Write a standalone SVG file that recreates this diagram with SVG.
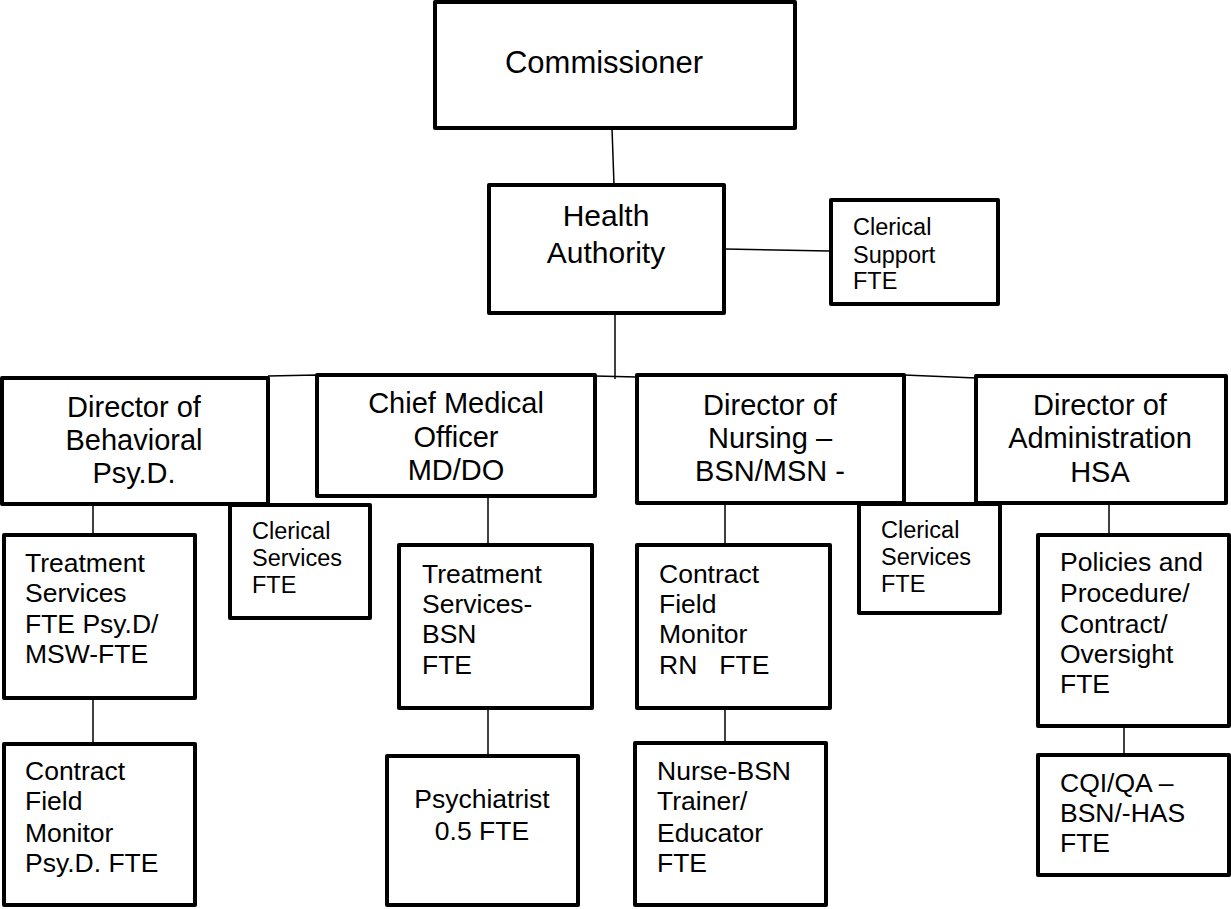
<svg xmlns="http://www.w3.org/2000/svg" width="1231" height="909" viewBox="0 0 1231 909">
<style>
.box{fill:#fff;stroke:#000;stroke-width:4;stroke-linejoin:round}
.ln{stroke:#000;stroke-width:1.5;fill:none}
text{font-family:"Liberation Sans",Arial,sans-serif;fill:#000}
.c{text-anchor:middle}
.big{font-size:31px}
.h{font-size:30px}
.d{font-size:29px}
.m{font-size:26.5px}
.s{font-size:23.5px}
</style>
<rect width="1231" height="909" fill="#fff"/>
<g id="connectors">
<line class="ln" x1="612" y1="128" x2="614" y2="185"/>
<line class="ln" x1="725" y1="249" x2="829" y2="251"/>
<line class="ln" x1="615" y1="313" x2="615" y2="379"/>
<polyline class="ln" points="268,376 317,375 595,376 637,377"/>
<line class="ln" x1="904" y1="375" x2="976" y2="378"/>
<line class="ln" x1="93" y1="504" x2="93" y2="535"/>
<line class="ln" x1="93" y1="698" x2="93" y2="744"/>
<line class="ln" x1="488" y1="496" x2="488" y2="545"/>
<line class="ln" x1="488" y1="708" x2="488" y2="756"/>
<line class="ln" x1="725" y1="503" x2="725" y2="545"/>
<line class="ln" x1="725" y1="708" x2="725" y2="743"/>
<line class="ln" x1="1109" y1="503" x2="1109" y2="535"/>
<line class="ln" x1="1124" y1="726" x2="1124" y2="755"/>
</g>
<g id="commissioner">
<rect class="box" x="435" y="2" width="360" height="126"/>
<text class="big c" x="604" y="73">Commissioner</text>
</g>
<g id="health-authority">
<rect class="box" x="489" y="185" width="235" height="128"/>
<text class="h c" x="606" y="226">Health</text>
<text class="h c" x="606" y="263">Authority</text>
</g>
<g id="clerical-support">
<rect class="box" x="831" y="200" width="167" height="104"/>
<text class="s" x="853" y="235">Clerical</text>
<text class="s" x="853" y="263">Support</text>
<text class="s" x="853" y="289">FTE</text>
</g>
<g id="director-behavioral">
<rect class="box" x="2" y="378" width="266" height="126"/>
<text class="d c" x="134" y="417">Director of</text>
<text class="d c" x="134" y="450">Behavioral</text>
<text class="d c" x="134" y="483">Psy.D.</text>
</g>
<g id="chief-medical-officer">
<rect class="box" x="317" y="375" width="278" height="121"/>
<text class="d c" x="456" y="413">Chief Medical</text>
<text class="d c" x="456" y="447">Officer</text>
<text class="d c" x="456" y="480">MD/DO</text>
</g>
<g id="director-nursing">
<rect class="box" x="637" y="375" width="267" height="128"/>
<text class="d c" x="770" y="415">Director of</text>
<text class="d c" x="770" y="448">Nursing –</text>
<text class="d c" x="770" y="481">BSN/MSN -</text>
</g>
<g id="director-administration">
<rect class="box" x="976" y="376" width="250" height="127"/>
<text class="d c" x="1100" y="415">Director of</text>
<text class="d c" x="1100" y="448">Administration</text>
<text class="d c" x="1100" y="482">HSA</text>
</g>
<g id="clerical-services-left">
<rect class="box" x="230" y="505" width="140" height="113"/>
<text class="s" x="252" y="539">Clerical</text>
<text class="s" x="252" y="566">Services</text>
<text class="s" x="252" y="593">FTE</text>
</g>
<g id="clerical-services-right">
<rect class="box" x="859" y="504" width="141" height="109"/>
<text class="s" x="881" y="538">Clerical</text>
<text class="s" x="881" y="565">Services</text>
<text class="s" x="881" y="592">FTE</text>
</g>
<g id="treatment-services-psyd">
<rect class="box" x="4" y="535" width="191" height="163"/>
<text class="m" x="25" y="572">Treatment</text>
<text class="m" x="25" y="602">Services</text>
<text class="m" x="25" y="633">FTE Psy.D/</text>
<text class="m" x="25" y="663">MSW-FTE</text>
</g>
<g id="contract-field-monitor-psyd">
<rect class="box" x="4" y="744" width="191" height="161"/>
<text class="m" x="25" y="780">Contract</text>
<text class="m" x="25" y="810">Field</text>
<text class="m" x="25" y="842">Monitor</text>
<text class="m" x="25" y="872">Psy.D. FTE</text>
</g>
<g id="treatment-services-bsn">
<rect class="box" x="399" y="545" width="193" height="163"/>
<text class="m" x="422" y="583">Treatment</text>
<text class="m" x="422" y="613">Services-</text>
<text class="m" x="422" y="643">BSN</text>
<text class="m" x="422" y="674">FTE</text>
</g>
<g id="psychiatrist">
<rect class="box" x="387" y="756" width="191" height="149"/>
<text class="m c" x="482" y="808">Psychiatrist</text>
<text class="m c" x="482" y="840">0.5 FTE</text>
</g>
<g id="contract-field-monitor-rn">
<rect class="box" x="637" y="545" width="193" height="163"/>
<text class="m" x="659" y="583">Contract</text>
<text class="m" x="659" y="613">Field</text>
<text class="m" x="659" y="643">Monitor</text>
<text class="m" x="659" y="674" xml:space="preserve">RN   FTE</text>
</g>
<g id="nurse-bsn-trainer">
<rect class="box" x="635" y="743" width="191" height="162"/>
<text class="m" x="657" y="780">Nurse-BSN</text>
<text class="m" x="657" y="810">Trainer/</text>
<text class="m" x="657" y="842">Educator</text>
<text class="m" x="657" y="872">FTE</text>
</g>
<g id="policies-procedure">
<rect class="box" x="1038" y="535" width="191" height="191"/>
<text class="m" x="1060" y="571">Policies and</text>
<text class="m" x="1060" y="602">Procedure/</text>
<text class="m" x="1060" y="633">Contract/</text>
<text class="m" x="1060" y="663">Oversight</text>
<text class="m" x="1060" y="693">FTE</text>
</g>
<g id="cqi-qa">
<rect class="box" x="1038" y="755" width="191" height="120"/>
<text class="m" x="1060" y="792">CQI/QA –</text>
<text class="m" x="1060" y="822">BSN/-HAS</text>
<text class="m" x="1060" y="852">FTE</text>
</g>
</svg>
